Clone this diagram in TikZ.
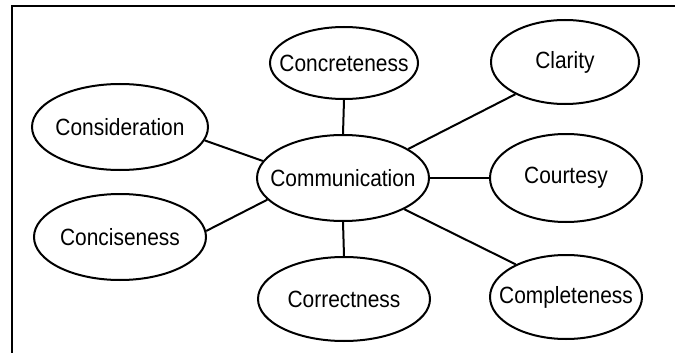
\documentclass[tikz,border=0pt]{standalone}
\usepackage{fontspec}
\usepackage{graphicx}
\setmainfont{Liberation Sans}
\usetikzlibrary{shapes.geometric}

% slightly narrowed label with no width, so the ellipse size is set only by minimum width/height
\newcommand\bubtext[1]{\makebox[0pt]{\scalebox{0.89}[1]{#1}}}

\tikzset{
  bubble/.style={ellipse, draw, line width=2pt, inner sep=0pt,
    font=\fontsize{23.5}{27}\selectfont},
  link/.style={line width=2pt},
  frame/.style={line width=2.8pt}
}

\begin{document}
\begin{tikzpicture}[x=1pt, y=-1pt]
\useasboundingbox (0,0) rectangle (675,353);

% open frame along the top and left edges
\draw[frame] (12,353) -- (12,6) -- (675,6);

% central idea
\node[bubble, minimum width=172pt, minimum height=86pt] (comm) at (343,178) {\bubtext{Communication}};

% the seven C's around it
\node[bubble, minimum width=148pt, minimum height=72pt] (concrete) at (344,63) {\bubtext{Concreteness}};
\node[bubble, minimum width=148pt, minimum height=84pt] (clarity)  at (565,62) {\bubtext{Clarity}};
\node[bubble, minimum width=176pt, minimum height=86pt] (consider) at (120,127) {\bubtext{Consideration}};
\node[bubble, minimum width=152pt, minimum height=88pt] (courtesy) at (566,178) {\bubtext{Courtesy}};
\node[bubble, minimum width=172pt, minimum height=86pt] (concise)  at (120,237) {\bubtext{Conciseness}};
\node[bubble, minimum width=172pt, minimum height=84pt] (correct)  at (344,299) {\bubtext{Correctness}};
\node[bubble, minimum width=152pt, minimum height=84pt] (complete) at (566,297) {\bubtext{Completeness}};

% spokes from the centre
\draw[link] (comm.90)    -- (concrete.270);
\draw[link] (comm.24)    -- (clarity.213);
\draw[link] (comm.168)   -- (consider.-9);
\draw[link] (comm.0)     -- (courtesy.180);
\draw[link] (comm.196)   -- (concise.4);
\draw[link] (comm.270)   -- (correct.90);
\draw[link] (comm.-27)   -- (complete.147);
\end{tikzpicture}
\end{document}
